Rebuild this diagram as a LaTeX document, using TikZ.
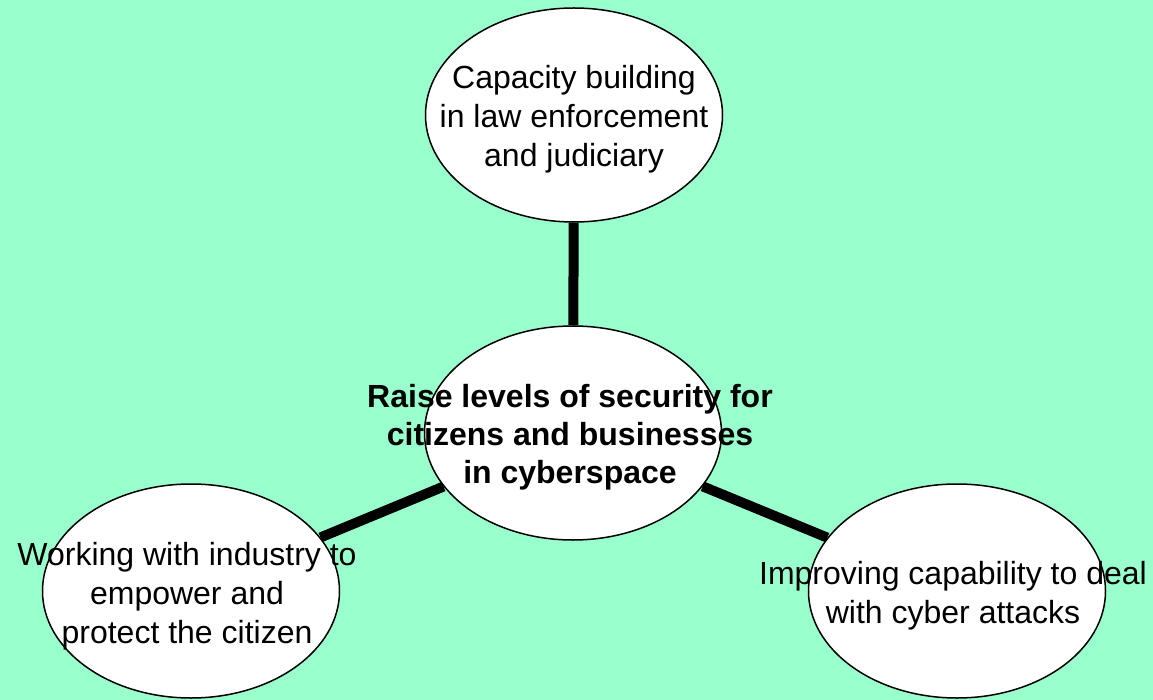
\documentclass[tikz,border=0pt]{standalone}
\usepackage{fontspec}
\setmainfont{Liberation Sans}
\usetikzlibrary{shapes.geometric,backgrounds}
\definecolor{mint}{RGB}{153,255,204}
\tikzset{every node/.style={inner sep=0pt},
  bubble/.style={ellipse,draw,line width=1.5pt,fill=white,minimum width=297pt,minimum height=214pt},
  caption/.style={align=center,font=\fontsize{32}{39}\selectfont},
  link/.style={line width=10pt}}

\begin{document}
\begin{tikzpicture}[x=1pt,y=-1pt]
      \useasboundingbox (0,0) rectangle (1153,700);
      \node[bubble] (top) at (574,115) {};
      \node[bubble] (hub) at (573,433) {};
      \node[bubble] (left) at (191,591) {};
      \node[bubble] (right) at (957,591) {};
      \node[caption] (toptext) at (574,119) {Capacity building\\ in law enforcement\\ and judiciary};
      \node[caption,font=\fontsize{32}{38}\selectfont\bfseries] (hubtext) at (570,437) {Raise levels of security for\\ citizens and businesses\\ in cyberspace};
      \node[caption] (lefttext) at (187,596) {Working with industry to\\ empower and\\ protect the citizen};
      \node[caption] (righttext) at (953,596) {Improving capability to deal\\ with cyber attacks};

\begin{scope}[on background layer]
  \fill[mint] (0,0) rectangle (1153,700);
\foreach \a/\b in {hub/top,hub/left,hub/right}
  \draw[link] (\a) -- (\b);
\end{scope}
    \end{tikzpicture}
\end{document}
